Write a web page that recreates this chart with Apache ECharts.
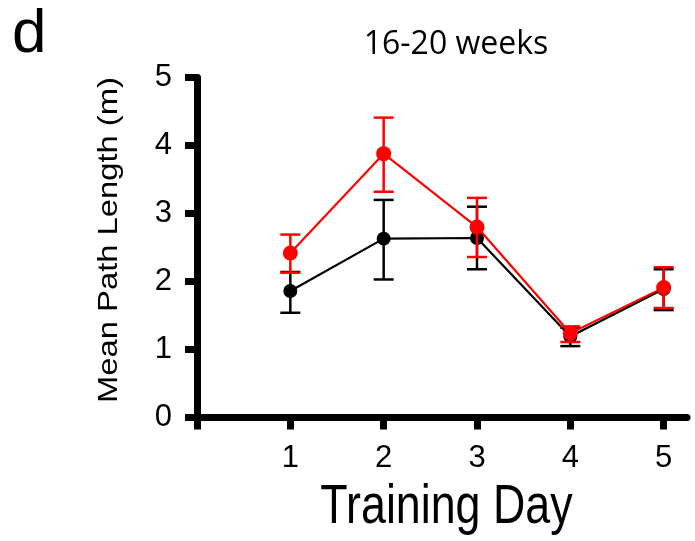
<!DOCTYPE html>
<html>
<head>
<meta charset="utf-8">
<script src="https://cdn.jsdelivr.net/npm/echarts@6/dist/echarts.min.js"></script>
<style>
  html, body { margin: 0; padding: 0; background: #fff; }
  #chart { width: 695px; height: 541px; }
</style>
</head>
<body>
<div id="chart"></div>
<script>
// Training days on the x axis
const days = [1, 2, 3, 4, 5];
const yTicks = [0, 1, 2, 3, 4, 5];

// Black group: mean path length (m) with lower / upper error limits
const blackMean = [1.86, 2.63, 2.64, 1.19, 1.89];
const blackLow  = [1.54, 2.03, 2.18, 1.05, 1.58];
const blackHigh = [2.14, 3.20, 3.10, 1.32, 2.18];

// Red group
const redMean = [2.42, 3.88, 2.80, 1.24, 1.91];
const redLow  = [2.13, 3.32, 2.36, 1.11, 1.61];
const redHigh = [2.69, 4.41, 3.23, 1.34, 2.21];

const chart = echarts.init(document.getElementById('chart'), null, { renderer: 'canvas' });

function errorSeries(color, low, high, z) {
  return {
    type: 'custom',
    data: days.map((d, i) => [d, low[i], high[i]]),
    encode: { x: 0, y: [1, 2] },
    renderItem: function (params, api) {
      const x = api.value(0);
      const lo = api.coord([x, api.value(1)]);
      const hi = api.coord([x, api.value(2)]);
      const half = 10;
      const style = { stroke: color, lineWidth: 2.5, fill: null };
      return {
        type: 'group',
        children: [
          { type: 'line', shape: { x1: lo[0], y1: lo[1], x2: hi[0], y2: hi[1] }, style: style },
          { type: 'line', shape: { x1: hi[0] - half, y1: hi[1], x2: hi[0] + half, y2: hi[1] }, style: style },
          { type: 'line', shape: { x1: lo[0] - half, y1: lo[1], x2: lo[0] + half, y2: lo[1] }, style: style }
        ]
      };
    },
    z: z
  };
}

function meanSeries(color, values, size, z) {
  return {
    type: 'line',
    data: days.map((d, i) => [d, values[i]]),
    symbol: 'circle',
    symbolSize: size,
    showSymbol: true,
    lineStyle: { color: color, width: 2.2 },
    itemStyle: { color: color },
    z: z
  };
}

const axisFont = 'Liberation Sans, Arial, sans-serif';

chart.setOption({
  animation: false,
  grid: { left: 197, right: 8, top: 77.5, bottom: 123.5 },
  xAxis: {
    type: 'value',
    min: 0,
    max: 5.25,
    interval: 1,
    splitLine: { show: false },
    axisLine: { show: true, onZero: false, lineStyle: { color: '#000', width: 7 } },
    axisTick: { show: true, customValues: [0].concat(days), length: 12, lineStyle: { color: '#000', width: 7 } },
    axisLabel: {
      customValues: days,
      margin: 25,
      color: '#000',
      fontSize: 31,
      fontFamily: axisFont
    }
  },
  yAxis: {
    type: 'value',
    min: 0,
    max: 5,
    interval: 1,
    splitLine: { show: false },
    axisLine: { show: true, lineStyle: { color: '#000', width: 7 } },
    axisTick: { show: true, customValues: yTicks, length: 12, lineStyle: { color: '#000', width: 7 } },
    axisLabel: {
      customValues: yTicks,
      margin: 25,
      color: '#000',
      fontSize: 31,
      fontFamily: axisFont
    }
  },
  graphic: [
    {
      type: 'text', x: 12, y: 35,
      style: { text: 'd', font: '62px ' + axisFont, fill: '#000', textAlign: 'left', textVerticalAlign: 'middle' }
    },
    {
      type: 'text', x: 456, y: 45,
      style: { text: '16-20 weeks', font: '32px "Open Sans", sans-serif', fill: '#000', textAlign: 'center', textVerticalAlign: 'middle' }
    },
    {
      type: 'text', x: 109, y: 240, rotation: Math.PI / 2, scaleX: 1.17,
      style: { text: 'Mean Path Length (m)', font: '28px ' + axisFont, fill: '#000', textAlign: 'center', textVerticalAlign: 'middle' }
    },
    {
      type: 'text', x: 446.5, y: 508, scaleX: 0.8,
      style: { text: 'Training Day', font: '56px ' + axisFont, fill: '#000', textAlign: 'center', textVerticalAlign: 'middle' }
    }
  ],
  series: [
    errorSeries('#000', blackLow, blackHigh, 2),
    meanSeries('#000', blackMean, 14, 3),
    errorSeries('#ff0000', redLow, redHigh, 4),
    meanSeries('#ff0000', redMean, 15, 5)
  ]
});
</script>
</body>
</html>
